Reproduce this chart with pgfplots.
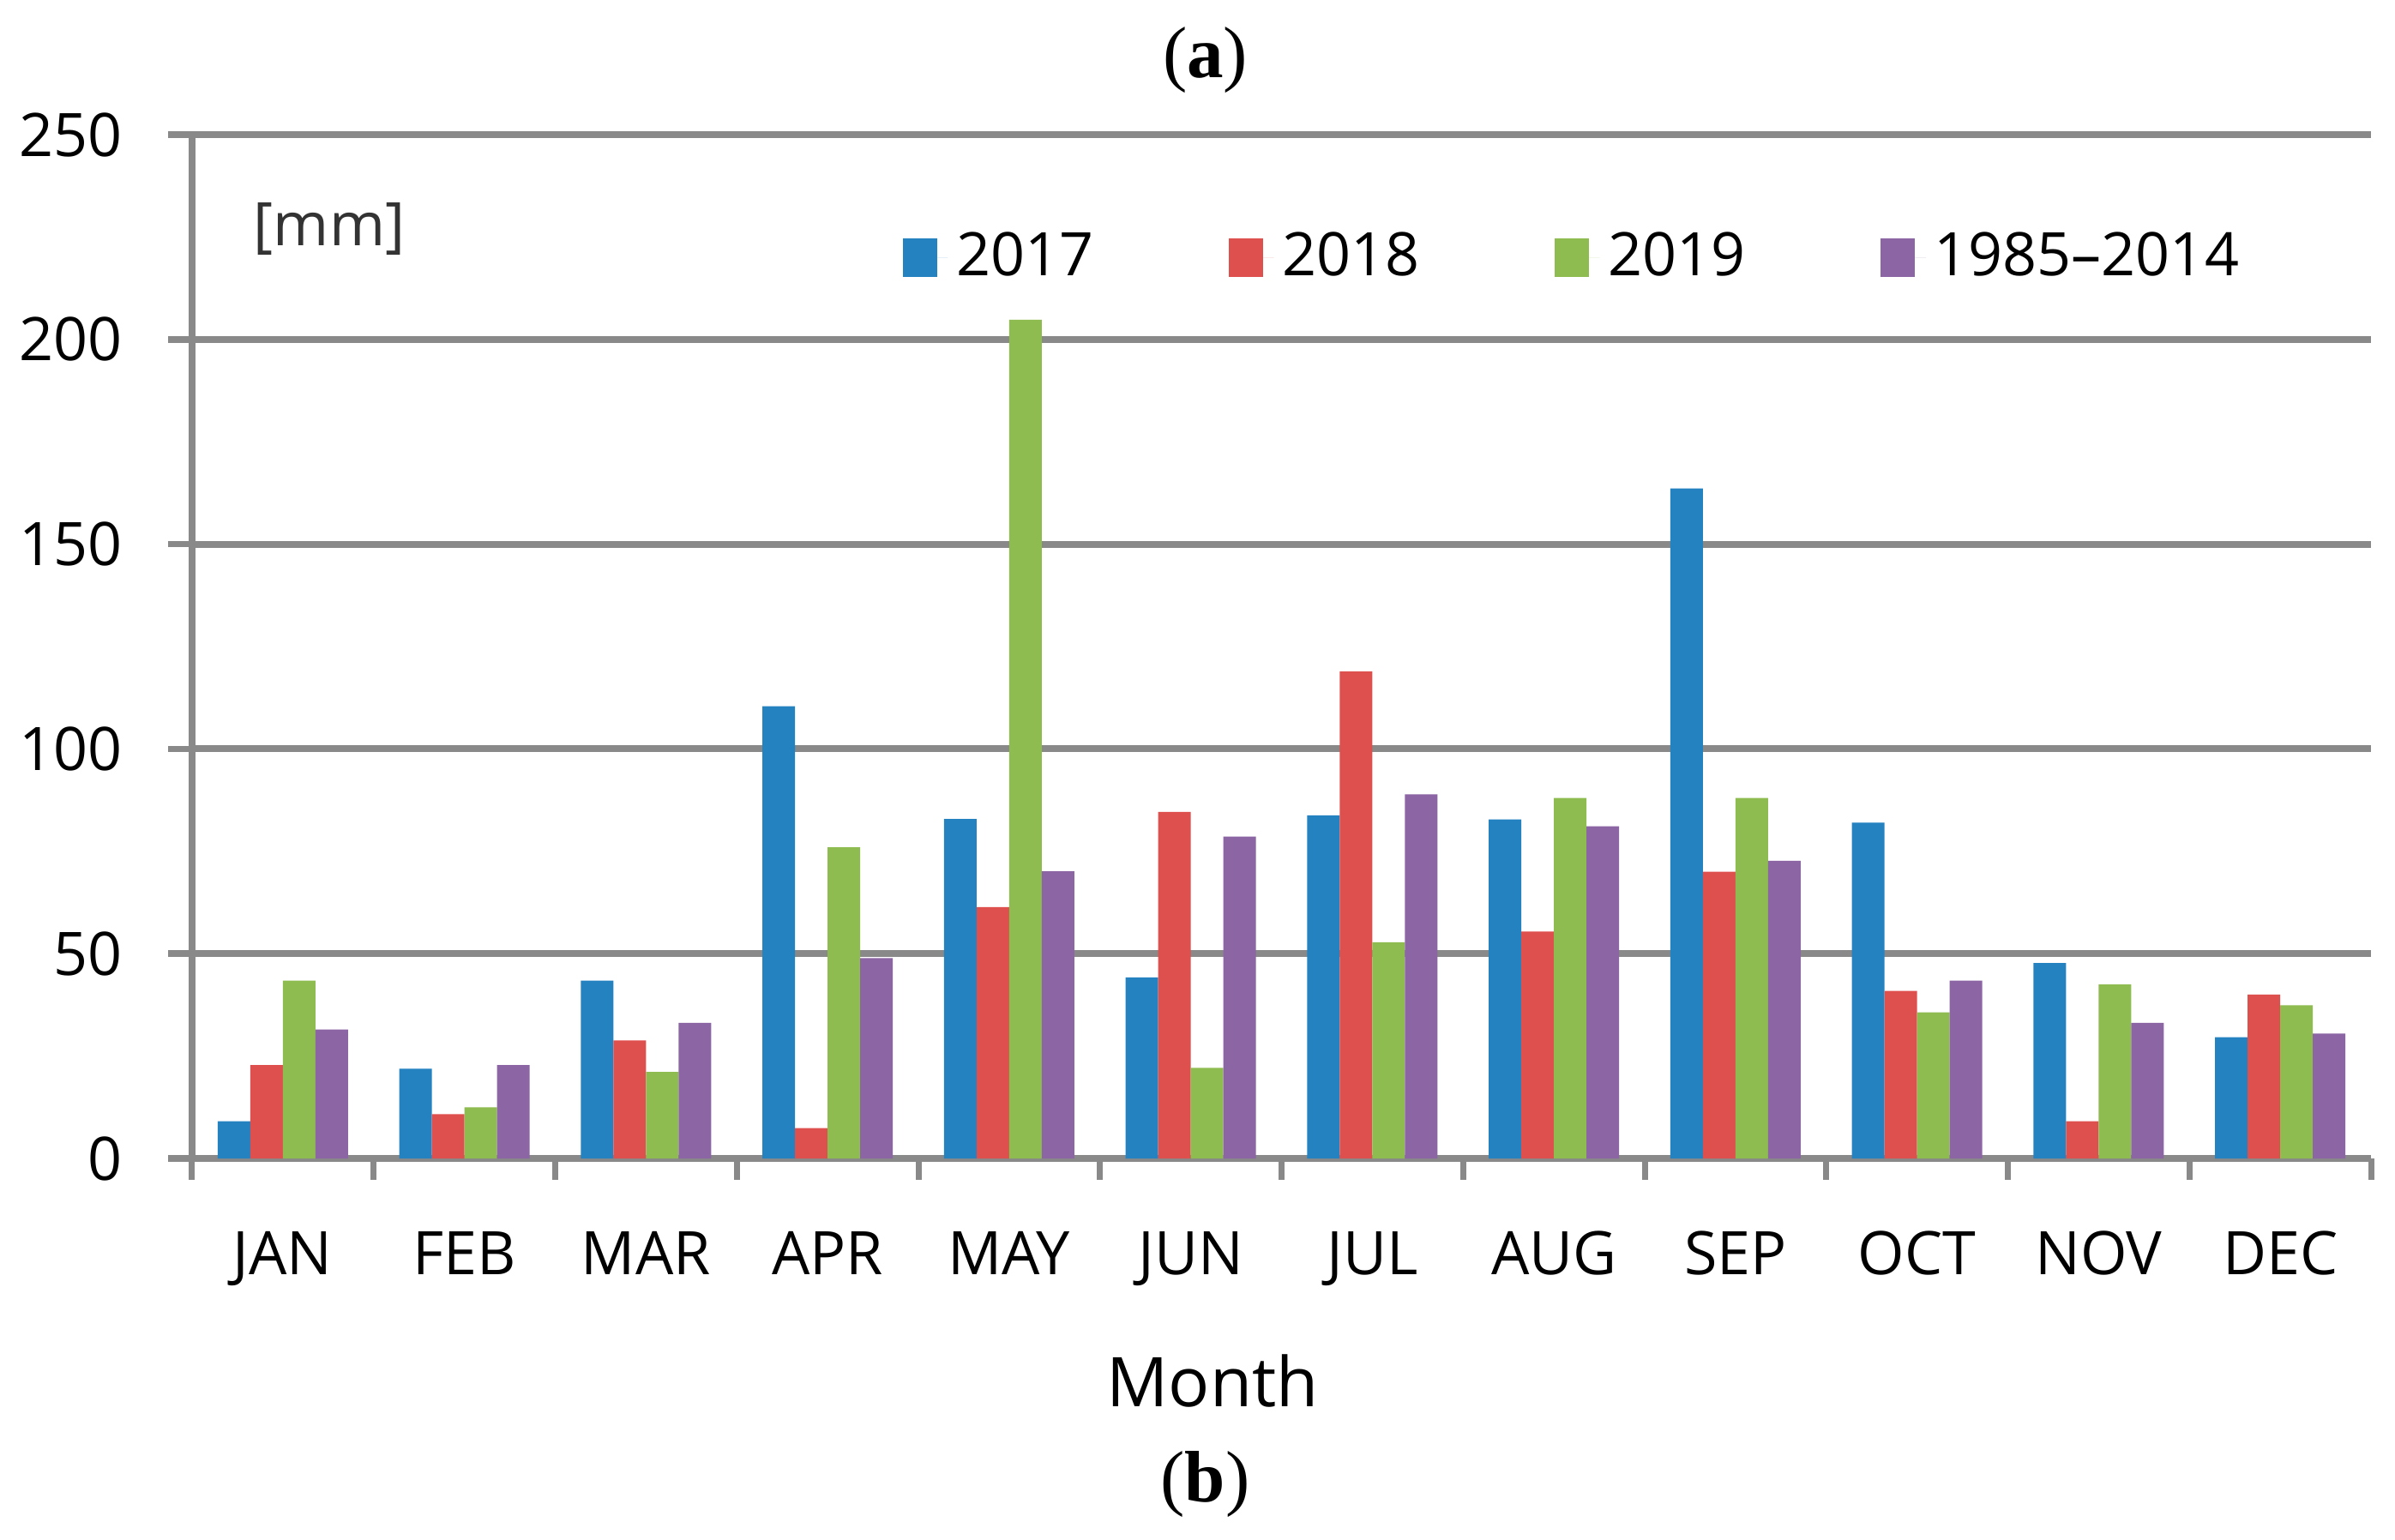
\documentclass[border=0pt]{standalone}
\usepackage{fontspec}
\setmainfont{Open Sans}
\newfontfamily\capfont{Liberation Serif}
\usepackage{pgfplots}
\usepackage{pgfplotstable}
\pgfplotsset{compat=1.18}

\definecolor{c17}{RGB}{36,130,193}
\definecolor{c18}{RGB}{222,80,78}
\definecolor{c19}{RGB}{142,188,80}
\definecolor{cref}{RGB}{140,101,164}
\definecolor{gridgray}{RGB}{137,137,137}

\pgfplotsset{boxlegend/.style={legend image code/.code={%
  \fill[##1] (0pt,-4.5pt) rectangle (8pt,4.5pt);
  \path (0pt,0pt) -- (10.5pt,0pt);}}}

% monthly precipitation [mm], month index 0 = JAN
\pgfplotstableread{
m   y17    y18    y19    ref
0   9.1    22.8   43.4   31.5
1   21.9   10.8   12.5   22.8
2   43.4   28.8   21.1   33.1
3   110.4  7.4    76.0   48.9
4   82.9   61.4   204.8  70.1
5   44.2   84.6   22.1   78.6
6   83.8   118.9  52.8   88.9
7   82.8   55.4   88.0   81.1
8   163.6  70.0   88.0   72.7
9   82.0   40.9   35.7   43.4
10  47.7   9.1    42.5   33.1
11  29.6   40.0   37.4   30.5
}\rain

\begin{document}
\begin{tikzpicture}
\useasboundingbox (-44.8pt,-88.8pt) rectangle (513.8pt,270.2pt);
\begin{axis}[
  scale only axis, width=508.2pt, height=238.8pt,
  xmin=-0.5, xmax=11.5, ymin=0, ymax=250,
  ybar=0pt, bar width=7.6pt,
  axis lines=left,
  axis line style={-, draw=gridgray, line width=1.5pt},
  xtick={0,...,11},
  xticklabels={JAN,FEB,MAR,APR,MAY,JUN,JUL,AUG,SEP,OCT,NOV,DEC},
  minor xtick={-0.5,0.5,...,11.5},
  ytick={0,50,...,250},
  tick align=outside,
  major tick length=5.6pt, minor tick length=5pt,
  major x tick style={draw=none},
  major y tick style={line width=1.5pt, draw=gridgray},
  minor x tick style={line width=1.4pt, draw=gridgray},
  ymajorgrids, major grid style={line width=1.6pt, draw=gridgray},
  /pgf/number format/assume math mode=true,
  ticklabel style={font=\fontsize{14}{16}\selectfont},
  yticklabel style={xshift=-7.2pt},
  xticklabel style={yshift=-7.9pt},
  every axis plot/.append style={draw=none, boxlegend},
  legend style={at={(axis cs:3.41,220)}, anchor=west, draw=none, fill=none,
    inner sep=0pt, font=\fontsize{14}{16}\selectfont,
    /tikz/every even column/.append style={column sep=29.5pt}},
  legend columns=4,
  legend cell align=left,
  clip=false,
]
\addplot[fill=c17] table[x=m, y=y17] {\rain};
\addplot[fill=c18] table[x=m, y=y18] {\rain};
\addplot[fill=c19] table[x=m, y=y19] {\rain};
\addplot[fill=cref] table[x=m, y=ref] {\rain};
\legend{2017, 2018, 2019, 1985--2014}
\node[anchor=west, inner sep=0pt, text=black!80, font=\fontsize{14}{16}\selectfont] at (axis cs:-0.165,227) {[mm]};
\node[anchor=base, font=\fontsize{16}{19}\selectfont] at (axis cs:5.12,0) [yshift=-57.8pt] {Month};
\node[font=\capfont\fontsize{17}{20}\selectfont] at (axis cs:5.08,0) [yshift=-76pt] {(\textbf{b})};
\node[font=\capfont\fontsize{17}{20}\selectfont] at (axis cs:5.08,250) [yshift=17.4pt] {(\textbf{a})};
\end{axis}
\end{tikzpicture}
\end{document}
